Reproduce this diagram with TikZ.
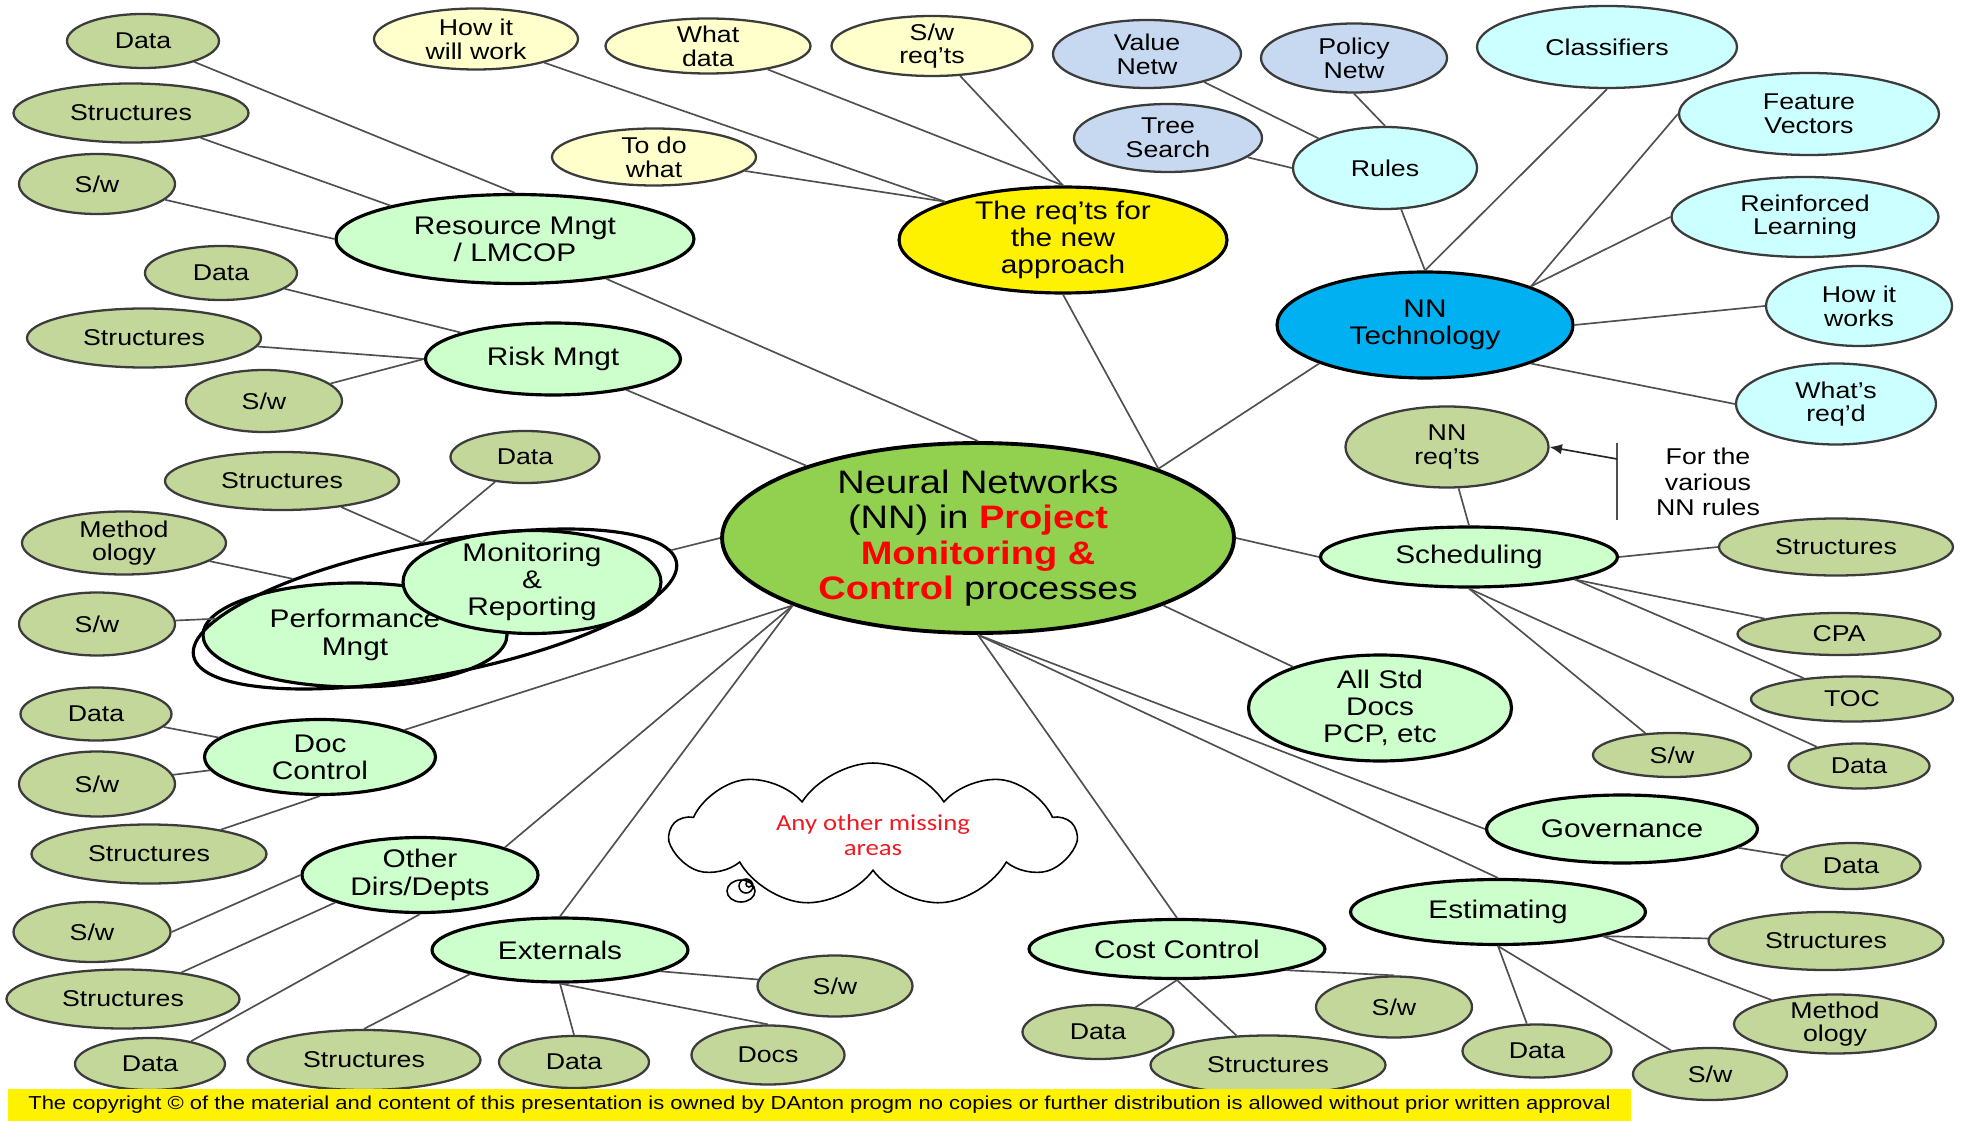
\documentclass[tikz,border=0pt]{standalone}
\usepackage{fontspec}
\setmainfont{Liberation Sans}[FakeStretch=1.17]
\newfontfamily\cloudfont{Carlito}[FakeStretch=1.17]
\usetikzlibrary{shapes.geometric,shapes.symbols,arrows.meta}

\definecolor{leafgreen}{RGB}{196,215,155}
\definecolor{leafline}{RGB}{60,60,60}
\definecolor{areagreen}{RGB}{204,255,204}
\definecolor{nngreen}{RGB}{146,208,80}
\definecolor{reqyellow}{RGB}{255,255,204}
\definecolor{rulegray}{RGB}{198,217,241}
\definecolor{techcyan}{RGB}{204,255,255}
\definecolor{techblue}{RGB}{0,176,240}
\definecolor{linegray}{RGB}{80,80,80}
\definecolor{cloudred}{RGB}{237,28,36}

\begin{document}
\begin{tikzpicture}[x=0.02cm, y=-0.02cm]
	\tikzstyle{bubble}=[ellipse, align=center, inner xsep=0pt, inner ysep=-2pt]
	\tikzstyle{leaf}=[bubble, draw=leafline, line width=1.3pt, fill=leafgreen, font=\fontsize{13}{13.5}\selectfont]
	\tikzstyle{req leaf}=[leaf, fill=reqyellow]
	\tikzstyle{rule leaf}=[leaf, fill=rulegray]
	\tikzstyle{tech leaf}=[leaf, fill=techcyan]
	\tikzstyle{area}=[bubble, draw=black, line width=1.8pt, fill=areagreen, font=\fontsize{14.5}{15.5}\selectfont]
	\tikzstyle{conn}=[draw=linegray, line width=0.95pt]

	\useasboundingbox (0,0) rectangle (1967,1121);

	% Centro
	\node[area, fill=nngreen, line width=2.2pt, minimum width=10.24cm, minimum height=3.8cm, font=\fontsize{18.5}{20.2}\selectfont] (nn) at (978,538)
		{Neural Networks\\(NN) in \textcolor{red}{\bfseries Project}\\\textcolor{red}{\bfseries Monitoring \&}\\\textcolor{red}{\bfseries Control} processes};

	% Areas
	\node[area, minimum width=7.16cm, minimum height=1.78cm] (res) at (515,239) {Resource Mngt\\/ LMCOP};
	\node[area, minimum width=5.1cm, minimum height=1.44cm] (risk) at (553,359) {Risk Mngt};
	\node[area, minimum width=6.08cm, minimum height=2.08cm] (perf) at (355,635) {Performance\\Mngt};
	\node[area, minimum width=5.16cm, minimum height=2.06cm] (mon) at (532,582) {Monitoring\\\&\\Reporting};
	\node[ellipse, draw=black, line width=1.8pt, rotate=11, minimum width=9.84cm, minimum height=2.64cm, inner sep=0pt] (grp) at (435,609) {};
	\node[area, minimum width=4.62cm, minimum height=1.5cm] (doc) at (320,757) {Doc\\Control};
	\node[area, minimum width=4.72cm, minimum height=1.5cm] (other) at (420,875) {Other\\Dirs/Depts};
	\node[area, minimum width=5.12cm, minimum height=1.28cm] (ext) at (560,950) {Externals};
	\node[area, fill=yellow, minimum width=6.56cm, minimum height=2.12cm] (req) at (1063,240) {The req’ts for\\the new\\approach};
	\node[area, fill=techblue, minimum width=5.92cm, minimum height=2.12cm] (nntech) at (1425,325) {NN\\Technology};
	\node[area, minimum width=5.94cm, minimum height=1.2cm] (sched) at (1469,557) {Scheduling};
	\node[area, minimum width=5.26cm, minimum height=2.12cm] (alldocs) at (1380,708) {All Std\\Docs\\PCP, etc};
	\node[area, minimum width=5.42cm, minimum height=1.36cm] (gov) at (1622,829) {Governance};
	\node[area, minimum width=5.9cm, minimum height=1.3cm] (est) at (1498,912) {Estimating};
	\node[area, minimum width=5.92cm, minimum height=1.18cm] (cc) at (1177,949) {Cost Control};

	% Hojas olivo
	\foreach \name/\x/\y/\w/\h/\txt in {
		resdata/143/41/152/54/Data, resstr/131/113/235/59/Structures, ressw/97/184/156/60/{S/w},
		riskdata/221/273/152/54/Data, riskstr/144/338/234/59/Structures, risksw/264/401/156/62/{S/w},
		perfstr/282/481/234/58/Structures, perfdata/525/457/149/52/Data,
		perfmeth/124/543/204/63/{Method\\ology}, perfsw/97/624/156/63/{S/w},
		docdata/96/714/151/53/Data, docsw/97/784/156/65/{S/w}, docstr/149/854/235/59/Structures,
		othsw/92/932/157/60/{S/w}, othstr/123/999/233/59/Structures, othdata/150/1064/150/52/Data,
		extsw/835/986/155/61/{S/w}, extdocs/768/1055/153/59/Docs,
		extdata/574/1062/150/52/Data, extstr/364/1060/233/60/Structures,
		nnreq/1447/447/203/81/{NN\\req’ts}, schstr/1836/547/234/57/Structures,
		schcpa/1839/634/203/42/CPA, schtoc/1852/699/202/45/TOC,
		schsw/1672/755/158/44/{S/w}, schdata/1859/766/141/45/Data,
		govdata/1851/866/139/46/Data,
		eststr/1826/941/235/58/Structures, estmeth/1835/1024/202/59/{Method\\ology},
		estsw/1710/1074/154/52/{S/w}, estdata/1537/1051/149/53/Data,
		ccsw/1394/1007/156/61/{S/w}, ccdata/1098/1032/151/54/Data, ccstr/1268/1065/235/59/Structures}
	\node[leaf, minimum width=\w*0.02cm, minimum height=\h*0.02cm] (\name) at (\x,\y) {\txt};

	% Hojas amarillas
	\foreach \name/\x/\y/\w/\h/\txt in {
		reqhow/476/39/204/61/{How it\\will work}, reqdata/708/46/205/55/{What\\data},
		reqsw/932/46/201/60/{S/w\\req’ts}, reqtodo/654/157/204/57/{To do\\what}}
	\node[req leaf, minimum width=\w*0.02cm, minimum height=\h*0.02cm] (\name) at (\x,\y) {\txt};

	% Hojas azules
	\foreach \name/\x/\y/\w/\h/\txt in {
		valnet/1147/54/188/68/{Value\\Netw}, polnet/1354/58/186/69/{Policy\\Netw},
		tree/1168/138/188/68/{Tree\\Search}}
	\node[rule leaf, minimum width=\w*0.02cm, minimum height=\h*0.02cm] (\name) at (\x,\y) {\txt};

	\foreach \name/\x/\y/\w/\h/\txt in {
		rules/1385/168/184/82/Rules, classif/1607/47/260/82/Classifiers,
		featvec/1809/114/260/82/{Feature\\Vectors}, reinf/1805/217/267/80/{Reinforced\\Learning},
		howworks/1859/306/186/80/{How it\\works}, whatreq/1836/404/200/81/{What’s\\req’d}}
	\node[tech leaf, minimum width=\w*0.02cm, minimum height=\h*0.02cm] (\name) at (\x,\y) {\txt};

	% Nota de reglas
	\node[align=center, font=\fontsize{13}{14.5}\selectfont] (nnrules) at (1708,482) {For the\\various\\NN rules};
	\coordinate (brtop) at (1617,443);
	\coordinate (brbot) at (1617,520);
	\coordinate (brmid) at (1617,459);
	\draw[conn] (brtop) -- (brbot);
	\draw[conn, draw=black!85, -{Latex[length=7pt,width=6pt]}] (brmid) -- (nnreq.east);

	% Nube
	\node[cloud, draw=black, line width=0.9pt, fill=white, cloud puffs=9, cloud puff arc=115, cloud ignores aspect, minimum width=8.06cm, minimum height=2.88cm, text=cloudred, align=center, font=\cloudfont\fontsize{13}{14}\selectfont] (cloud) at (873,835) {Any other missing\\areas};
	\draw[line width=0.9pt] (741,891) ellipse (14 and 11) (746,886) circle (7) (749,884) circle (3);

	% Conexiones centro
	\foreach \source/\dest in {res/nn.north, risk/nn, grp/nn.west, doc/nn.200, other.18/nn.200,
		ext.north/nn.200, req.south/nn.21, nntech.200/nn.21, alldocs/nn.340, sched.west/nn.east,
		gov.west/nn.south, est.north/nn.south, cc.north/nn.south}
	\draw[conn] (\source) -- (\dest);

	% Conexiones hojas
	\foreach \source/\dest in {resdata/res.north, resstr/res.165, ressw/res.west,
		riskdata/risk.164, riskstr/risk.west, risksw/risk.west,
		perfstr/grp.north, perfdata/grp.north, perfmeth/grp, perfsw/grp,
		docdata/doc, docsw/doc, docstr/doc.south,
		othsw.east/other.west, othstr/other.198, othdata/other.south,
		extsw/ext.-12, extdocs.north/ext.south, extdata.north/ext.south, extstr.north/ext.195,
		reqhow/req.162, reqtodo/req.162, reqdata/req.north, reqsw/req.north,
		valnet/rules.156, polnet.south/rules.north, tree/rules.west,
		rules/nntech.north, classif.south/nntech.north, featvec.west/nntech.20,
		reinf.west/nntech.20, howworks.west/nntech.east, whatreq.west/nntech.340,
		nnreq/sched.north, schstr.west/sched.east, schcpa/sched.-12, schtoc/sched.-12,
		schsw/sched.south, schdata/sched.south, govdata/gov,
		eststr/est.-13, estmeth/est.-13, estsw/est.south, estdata/est.south,
		ccsw.north/cc.-11, ccdata/cc.south, ccstr/cc.south}
	\draw[conn] (\source) -- (\dest);

	% Pie
	\node[fill=yellow, minimum width=32.46cm, minimum height=0.64cm, inner sep=0pt, font=\fontsize{10.7}{11}\selectfont] (copyright) at (819.5,1105)
		{The copyright © of the material and content of this presentation is owned by DAnton progm no copies or further distribution is allowed without prior written approval};
\end{tikzpicture}
\end{document}
